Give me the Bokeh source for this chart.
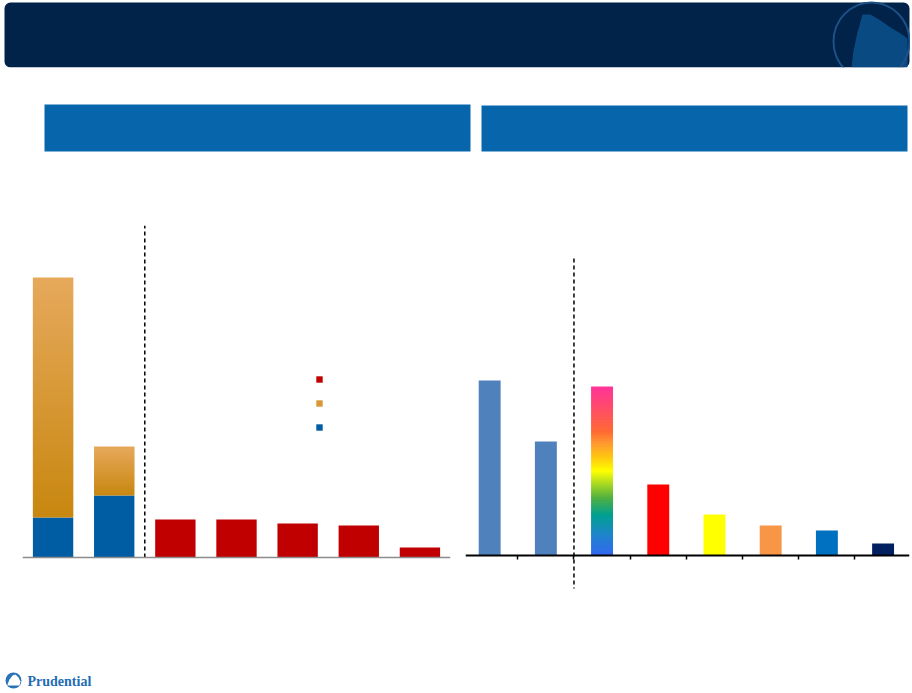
from bokeh.plotting import figure
from bokeh.layouts import column, row
from bokeh.models import (Range1d, ColumnDataSource, Span, Legend, LegendItem,
                          LinearAxis, FixedTicker, Label, CustomJSTickFormatter)
from bokeh.embed import file_html
from bokeh.resources import INLINE

# ---------------- data ----------------
left_categories = ["Bar 1", "Bar 2", "Bar 3", "Bar 4", "Bar 5", "Bar 6", "Bar 7"]
left_stack_categories = ["Bar 1", "Bar 2"]
left_blue = [4.0, 6.2]
left_orange = [24.0, 4.9]
left_red_categories = ["Bar 3", "Bar 4", "Bar 5", "Bar 6", "Bar 7"]
left_red = [3.8, 3.8, 3.4, 3.2, 1.0]

right_categories = ["C1", "C2", "C3", "C4", "C5", "C6", "C7", "C8"]
right_values = [17.5, 11.4, 16.9, 7.1, 4.1, 3.0, 2.5, 1.2]
right_colors = ["#4F81BD", "#4F81BD", None, "#FF0000", "#FFFF00", "#F79646", "#0070C0", "#002060"]

RED = "#C00000"
BLUE = "#005DA3"
ORANGE_STOPS = [(0.0, "#C8870F"), (1.0, "#E6A95C")]          # bottom -> top
RAINBOW_STOPS = [(0.0, "#3366F0"), (0.12, "#1E84CC"), (0.24, "#00A090"),
                 (0.34, "#50B040"), (0.43, "#B0DC20"), (0.50, "#FFFF00"),
                 (0.58, "#FFC810"), (0.67, "#FF9530"), (0.73, "#FF6A30"),
                 (0.85, "#FF5060"), (1.0, "#FF3399")]                   # bottom -> top


def hex2rgb(h):
    h = h.lstrip("#")
    return tuple(int(h[i:i + 2], 16) for i in (0, 2, 4))


def color_at(stops, f):
    for (f0, c0), (f1, c1) in zip(stops[:-1], stops[1:]):
        if f0 <= f <= f1:
            t = 0 if f1 == f0 else (f - f0) / (f1 - f0)
            a, b = hex2rgb(c0), hex2rgb(c1)
            return "#%02x%02x%02x" % tuple(round(a[i] + (b[i] - a[i]) * t) for i in range(3))
    return stops[-1][1]


def gradient_source(xs, bottoms, tops, stops, step=0.2):
    # split each bar into thin slices (about 2 px each) to imitate a colour gradient
    d = dict(x=[], b=[], t=[], c=[])
    for x, b0, t0 in zip(xs, bottoms, tops):
        n = max(6, int(round((t0 - b0) / step)))
        h = (t0 - b0) / n
        for k in range(n):
            d["x"].append(x)
            d["b"].append(b0 + h * k)
            d["t"].append(min(t0, b0 + h * (k + 1.5)))
            d["c"].append(color_at(stops, (k + 0.5) / n))
    return ColumnDataSource(d)


# ---------------- banner ----------------
banner = figure(width=910, height=160, x_range=Range1d(0, 910), y_range=Range1d(160, 0),
                output_backend="svg", toolbar_location=None, x_axis_type=None, y_axis_type=None,
                min_border=0)
banner.outline_line_color = None
banner.grid.visible = False
banner.quad(left=[4], right=[909], top=[2], bottom=[67], fill_color="#012249", line_color=None,
            border_radius=6)
banner.patch([851, 853, 857, 862, 870, 880, 890, 900, 907, 907],
             [67, 50, 32, 14, 14, 20, 27, 33, 38, 67], fill_color="#0A4A82", line_color=None)
banner.ellipse(x=[871], y=[41], width=76, height=78, fill_color=None,
               line_color="#1D5187", line_width=2)
banner.quad(left=[0], right=[910], top=[67], bottom=[100], fill_color="white", line_color=None)
banner.quad(left=[44, 481], right=[470, 907], top=[104, 105], bottom=[151, 151],
            fill_color="#0766AB", line_color=None)

# ---------------- left chart ----------------
lp = figure(width=462, height=440, x_range=left_categories, y_range=Range1d(-3.3, 33.2),
            output_backend="svg", toolbar_location=None, x_axis_type=None, y_axis_type=None,
            min_border_left=22, min_border_right=12, min_border_top=65, min_border_bottom=10)
lp.outline_line_color = None
lp.grid.visible = False
lp.x_range.range_padding = 0

W_L = 0.66
blue_r = lp.vbar(x=left_stack_categories, bottom=0, top=left_blue, width=W_L,
                 fill_color=BLUE, line_color=None)
ostops_t = [b + o for b, o in zip(left_blue, left_orange)]
orange_r = lp.vbar(x="x", bottom="b", top="t", width=W_L, fill_color="c", line_color=None,
                   source=gradient_source(left_stack_categories, left_blue, ostops_t, ORANGE_STOPS))
red_r = lp.vbar(x=left_red_categories, bottom=0, top=left_red, width=W_L,
                fill_color=RED, line_color=None)
lp.add_layout(Span(location=0, dimension="width", line_color="#8C8C8C", line_width=1.5))
lp.segment(x0=[2], y0=[0], x1=[2], y1=[33.2], line_color="black", line_width=1.5,
           line_dash="4 3")

legend = Legend(items=[LegendItem(label=" ", renderers=[red_r]),
                       LegendItem(label=" ", renderers=[orange_r], index=60),
                       LegendItem(label=" ", renderers=[blue_r])],
                location=(293, 159), glyph_width=8, glyph_height=8, label_height=8,
                label_text_font_size="5px", spacing=16, padding=0, margin=0,
                border_line_color=None, background_fill_alpha=0)
lp.add_layout(legend)

# ---------------- right chart ----------------
rp = figure(width=448, height=440, x_range=Range1d(0.07, 7.97), y_range=Range1d(-3.5, 33.0),
            output_backend="svg", toolbar_location=None, x_axis_type=None, y_axis_type=None,
            min_border_left=3, min_border_right=1, min_border_top=65, min_border_bottom=10)
rp.outline_line_color = None
rp.grid.visible = False

rx = [i + 0.5 for i in range(len(right_categories))]
W_R = 0.39
solid_x = [x for x, c in zip(rx, right_colors) if c]
solid_v = [v for v, c in zip(right_values, right_colors) if c]
solid_c = [c for c in right_colors if c]
rp.vbar(x=solid_x, bottom=0, top=solid_v, width=W_R, fill_color=solid_c, line_color=None)
grad_x = [x for x, c in zip(rx, right_colors) if not c]
grad_v = [v for v, c in zip(right_values, right_colors) if not c]
rp.vbar(x="x", bottom="b", top="t", width=W_R, fill_color="c", line_color=None,
        source=gradient_source(grad_x, [0] * len(grad_x), grad_v, RAINBOW_STOPS, step=0.15))

ax = LinearAxis(fixed_location=0, ticker=FixedTicker(ticks=list(range(1, len(right_categories) + 1))),
                formatter=CustomJSTickFormatter(code="return ''"),
                axis_line_color="black", axis_line_width=2, major_tick_line_color="black",
                major_tick_line_width=1.5, major_tick_in=0, major_tick_out=4,
                minor_tick_line_color=None, major_label_text_font_size="1px",
                major_label_standoff=0)
rp.add_layout(ax, "below")
rp.segment(x0=[2], y0=[29.7], x1=[2], y1=[-3.3], line_color="black", line_width=1.5,
           line_dash="4 3")

# ---------------- footer ----------------
footer = figure(width=910, height=90, x_range=Range1d(0, 910), y_range=Range1d(690, 600),
                output_backend="svg", toolbar_location=None, x_axis_type=None, y_axis_type=None,
                min_border=0)
footer.outline_line_color = None
footer.grid.visible = False
footer.circle(x=[13], y=[680], radius=8, radius_units="screen", fill_color="#2A72B8", line_color=None)
footer.patch([7, 9, 12, 15, 18, 20, 19, 7], [684, 679, 675, 674, 677, 681, 685, 685],
             fill_color="white", line_color=None)
footer.add_layout(Label(x=27, y=681, text="Prudential", text_font="Liberation Serif",
                        text_font_style="bold", text_font_size="14px", text_color="#1F6DB3",
                        text_baseline="middle"))

layout = column(banner, row(lp, rp, spacing=0), footer, spacing=0)
open("out.html", "w").write(file_html(layout, INLINE))
